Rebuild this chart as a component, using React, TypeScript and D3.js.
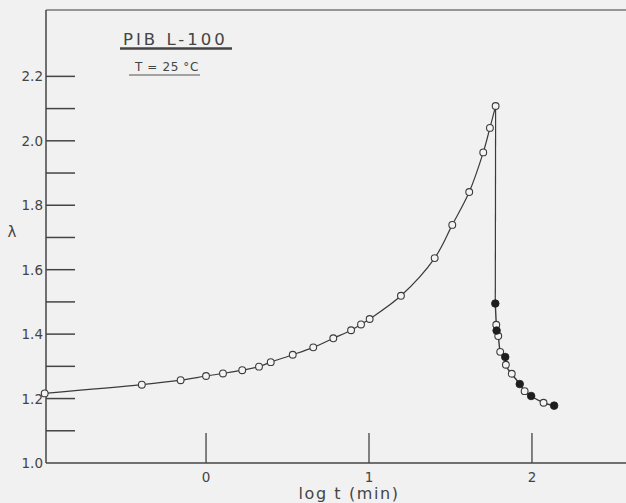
import React from 'react';
import * as d3 from 'd3';

// creep (open circles): log t (min) and lambda
const creepLogT = [-0.99, -0.394, -0.156, 0.0, 0.104, 0.222, 0.325, 0.397, 0.532, 0.658, 0.781, 0.89, 0.951, 1.004, 1.196, 1.403, 1.511, 1.615, 1.701, 1.742, 1.777];
const creepLambda = [1.216, 1.243, 1.257, 1.27, 1.278, 1.288, 1.299, 1.313, 1.336, 1.359, 1.387, 1.412, 1.43, 1.447, 1.519, 1.636, 1.739, 1.841, 1.964, 2.04, 2.108];

// recovery, open circles
const recOpenLogT = [1.781, 1.793, 1.805, 1.84, 1.876, 1.955, 2.071];
const recOpenLambda = [1.429, 1.394, 1.345, 1.305, 1.277, 1.223, 1.187];

// recovery, filled circles
const recFilledLogT = [1.775, 1.783, 1.836, 1.925, 1.995, 2.136];
const recFilledLambda = [1.495, 1.411, 1.329, 1.245, 1.208, 1.178];

const yTickLabels = ['1.0', '1.2', '1.4', '1.6', '1.8', '2.0', '2.2'];
const yMinorTicks = [1.1, 1.2, 1.3, 1.4, 1.5, 1.6, 1.7, 1.8, 1.9, 2.0, 2.1, 2.2];
const xTicks = [0, 1, 2];

const W = 626;
const H = 503;
const margin = { top: 10, right: 0, bottom: 40, left: 46 };
const ink = '#3b3b3b';
const font = '"DejaVu Sans", "Liberation Sans", sans-serif';

export default function App() {
  const x = d3.scaleLinear().domain([-0.982, 2.577]).range([margin.left, W - margin.right]);
  const y = d3.scaleLinear().domain([1.0, 2.406]).range([H - margin.bottom, margin.top]);

  const creep = creepLogT.map((t, i) => ({ t, l: creepLambda[i] }));
  const recOpen = recOpenLogT.map((t, i) => ({ t, l: recOpenLambda[i] }));
  const recFilled = recFilledLogT.map((t, i) => ({ t, l: recFilledLambda[i] }));
  const recAll = [...recOpen, ...recFilled].sort((a, b) => a.t - b.t);

  const creepLine = d3.line<{ t: number; l: number }>()
    .x(d => x(d.t)).y(d => y(d.l))
    .curve(d3.curveCatmullRom.alpha(0.5));
  const recLine = d3.line<{ t: number; l: number }>()
    .x(d => x(d.t)).y(d => y(d.l))
    .curve(d3.curveMonotoneX);
  const dropLine = d3.line<{ t: number; l: number }>()
    .x(d => x(d.t)).y(d => y(d.l));

  const peak = creep[creep.length - 1];
  const firstRec = recAll[0];
  const y0 = y(1.0);

  return (
    <svg width={W} height={H} style={{ position: 'absolute', left: 0, top: 0, background: '#f1f1f1' }}>
      <rect x={0} y={0} width={W} height={H} fill="#f1f1f1" />

      {/* frame: top, left, bottom */}
      <line x1={margin.left} x2={W} y1={margin.top} y2={margin.top} stroke="#777" strokeWidth={1.5} />
      <line x1={margin.left} x2={margin.left} y1={margin.top} y2={y0} stroke="#444" strokeWidth={1.5} />
      <line x1={margin.left} x2={W} y1={y0} y2={y0} stroke="#444" strokeWidth={1.5} />

      {/* y ticks */}
      {yMinorTicks.map(v => (
        <line key={v} x1={margin.left} x2={margin.left + 29} y1={y(v)} y2={y(v)} stroke="#444" strokeWidth={1.5} />
      ))}
      {yTickLabels.map(s => (
        <text key={s} x={43} y={y(+s) + 5} textAnchor="end" fontFamily={font} fontSize={13.5} fill="#444">{s}</text>
      ))}

      {/* x ticks */}
      {xTicks.map(v => (
        <g key={v}>
          <line x1={x(v)} x2={x(v)} y1={y0} y2={y0 - 30} stroke="#444" strokeWidth={1.3} />
          <text x={x(v)} y={y0 + 19} textAnchor="middle" fontFamily={font} fontSize={13.5} fill="#444">{v}</text>
        </g>
      ))}

      <text x={349} y={499} textAnchor="middle" fontFamily={font} fontSize={16} fill="#444" letterSpacing={1.6}>log t (min)</text>
      <text x={12} y={237} textAnchor="middle" fontFamily={font} fontSize={15} fill="#444">λ</text>

      {/* title */}
      <text x={123} y={45} fontFamily={font} fontSize={16.5} fill="#444" letterSpacing={3}>PIB L-100</text>
      <line x1={120} x2={232} y1={48.5} y2={48.5} stroke="#444" strokeWidth={2.5} />
      <text x={135} y={71} fontFamily={font} fontSize={12} fill="#444" letterSpacing={0.6}>T = 25 °C</text>
      <line x1={129} x2={200} y1={75} y2={75} stroke="#555" strokeWidth={1.2} />

      {/* curves */}
      <path d={creepLine(creep) ?? ''} fill="none" stroke={ink} strokeWidth={1.2} />
      <path d={dropLine([peak, firstRec]) ?? ''} fill="none" stroke={ink} strokeWidth={1.2} />
      <path d={recLine(recAll) ?? ''} fill="none" stroke={ink} strokeWidth={1.4} />

      {/* markers */}
      {creep.map((d, i) => (
        <circle key={'c' + i} cx={x(d.t)} cy={y(d.l)} r={3.4} fill="#f4f4f4" stroke={ink} strokeWidth={1.1} />
      ))}
      {recOpen.map((d, i) => (
        <circle key={'o' + i} cx={x(d.t)} cy={y(d.l)} r={3.4} fill="#f4f4f4" stroke={ink} strokeWidth={1.1} />
      ))}
      {recFilled.map((d, i) => (
        <circle key={'f' + i} cx={x(d.t)} cy={y(d.l)} r={3.8} fill="#1e1e1e" stroke="#1e1e1e" strokeWidth={0.8} />
      ))}
    </svg>
  );
}
